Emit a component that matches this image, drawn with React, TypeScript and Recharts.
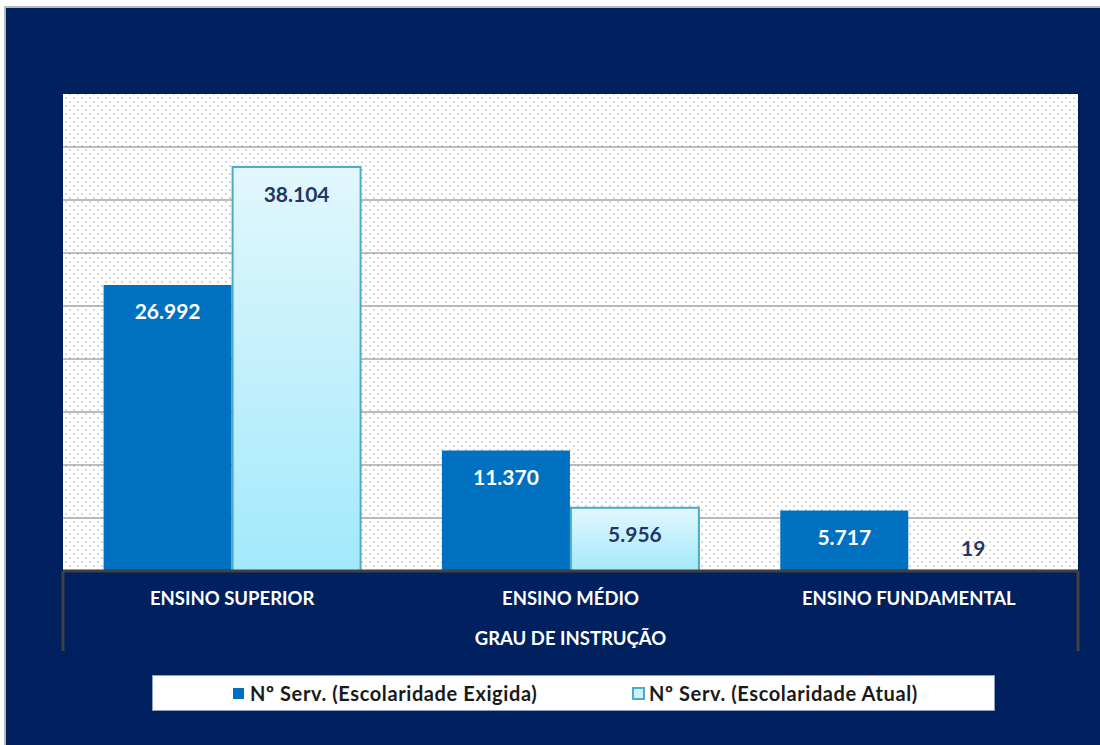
import React from 'react';
import { BarChart, Bar, XAxis, YAxis, CartesianGrid, Legend, LabelList } from 'recharts';

const categories = ['ENSINO SUPERIOR', 'ENSINO MÉDIO', 'ENSINO FUNDAMENTAL'];
const exigida = [26992, 11370, 5717];
const atual = [38104, 5956, 19];
const yTicks = [0, 5000, 10000, 15000, 20000, 25000, 30000, 35000, 40000];
const seriesNames = ['Nº Serv. (Escolaridade Exigida)', 'Nº Serv. (Escolaridade Atual)'];

const data = categories.map((name, i) => ({ name, exigida: exigida[i], atual: atual[i] }));

const W = 1100;
const H = 745;
const PLOT_LEFT = 63;
const PLOT_RIGHT = 1078;
const PLOT_TOP = 94;
const PLOT_BOTTOM = 571;
const AXIS_H = 80;
const NAVY = '#012060';
const FONT = 'Lato, "Open Sans", sans-serif';

function fmt(v: number): string {
  return String(v).replace(/\B(?=(\d{3})+(?!\d))/g, '.');
}

function makeLabel(color: string) {
  return (props: any) => {
    const { x, y, width, height, value } = props;
    const small = height < 40;
    const ty = small ? y - 23 : y + 26;
    return (
      <text
        x={x + width / 2}
        y={ty}
        textAnchor="middle"
        dominantBaseline="central"
        fill={small ? '#1F3864' : color}
        fontFamily={FONT}
        fontWeight={700}
        fontSize={21}
      >
        {fmt(value)}
      </text>
    );
  };
}

function CategoryTick(props: any) {
  const { x, y, payload } = props;
  return (
    <text x={x} y={y + 19} textAnchor="middle" dominantBaseline="central" fill="#FFFFFF" fontFamily={FONT} fontWeight={700} fontSize={18.5}>
      {payload.value}
    </text>
  );
}

function LegendBox() {
  return (
    <div
      style={{
        width: 843,
        height: 36,
        background: '#FFFFFF',
        border: '1px solid #8EA0C0',
        boxSizing: 'border-box',
        display: 'flex',
        alignItems: 'center',
        paddingLeft: 80,
        fontFamily: FONT,
        fontWeight: 700,
        fontSize: 20,
        letterSpacing: 0.6,
        color: '#1A1A1A',
      }}
    >
      <span style={{ display: 'flex', alignItems: 'center', width: 399 }}>
        <span style={{ width: 11, height: 11, background: '#0070C0', marginRight: 6, display: 'inline-block' }} />
        {seriesNames[0]}
      </span>
      <span style={{ display: 'flex', alignItems: 'center' }}>
        <span style={{ width: 9, height: 9, background: '#CDF1FC', border: '2px solid #4BACC6', marginRight: 4, display: 'inline-block' }} />
        {seriesNames[1]}
      </span>
    </div>
  );
}

export default function App() {
  return (
    <div style={{ position: 'absolute', left: 0, top: 0, width: W, height: H, background: '#FFFFFF', overflow: 'hidden' }}>
      <div
        style={{
          position: 'absolute',
          left: 4,
          top: 6,
          width: W - 4,
          height: H - 6,
          background: NAVY,
          borderLeft: '2px solid #B8B8B8',
          borderTop: '2px solid #B8B8B8',
          boxSizing: 'border-box',
        }}
      />
      <div style={{ position: 'absolute', left: 0, top: 0 }}>
        <BarChart
          width={W}
          height={H}
          data={data}
          barCategoryGap="12%"
          barGap={1}
          margin={{ top: PLOT_TOP, left: PLOT_LEFT, right: W - PLOT_RIGHT, bottom: H - PLOT_BOTTOM - AXIS_H - 36 }}
        >
          <defs>
            <pattern id="dots" width="8" height="8" patternUnits="userSpaceOnUse">
              <rect width="8" height="8" fill="#FFFFFF" />
              <circle cx="2" cy="2" r="0.9" fill="#C4C4C4" />
              <circle cx="6" cy="6" r="0.9" fill="#C4C4C4" />
            </pattern>
            <linearGradient id="lightGrad" x1="0" y1="0" x2="0" y2="1">
              <stop offset="0%" stopColor="#E2F7FD" />
              <stop offset="100%" stopColor="#A3E9FB" />
            </linearGradient>
          </defs>
          <CartesianGrid vertical={false} syncWithTicks fill="url(#dots)" stroke="#A6A6A6" strokeWidth={1.5} />
          <YAxis hide domain={[0, 45000]} ticks={yTicks} />
          <XAxis
            dataKey="name"
            height={AXIS_H}
            axisLine={{ stroke: '#404040', strokeWidth: 3 }}
            tickLine={false}
            tick={<CategoryTick />}
            label={{ value: 'GRAU DE INSTRUÇÃO', position: 'insideBottom', offset: 6, fill: '#FFFFFF', fontFamily: FONT, fontWeight: 700, fontSize: 18.5 }}
          />
          <Legend
            verticalAlign="bottom"
            content={() => <LegendBox />}
            wrapperStyle={{ position: 'absolute', left: 152, top: 675, width: 843, height: 36 }}
          />
          <Bar dataKey="exigida" name={seriesNames[0]} fill="#0070C0" isAnimationActive={false}>
            <LabelList dataKey="exigida" content={makeLabel('#FFFFFF')} />
          </Bar>
          <Bar dataKey="atual" name={seriesNames[1]} fill="url(#lightGrad)" stroke="#4BACC6" strokeWidth={2} isAnimationActive={false}>
            <LabelList dataKey="atual" content={makeLabel('#1F3864')} />
          </Bar>
          <line x1={PLOT_LEFT} y1={PLOT_BOTTOM} x2={PLOT_LEFT} y2={PLOT_BOTTOM + AXIS_H} stroke="#404040" strokeWidth={3} />
          <line x1={PLOT_RIGHT} y1={PLOT_BOTTOM} x2={PLOT_RIGHT} y2={PLOT_BOTTOM + AXIS_H} stroke="#404040" strokeWidth={3} />
        </BarChart>
      </div>
    </div>
  );
}
